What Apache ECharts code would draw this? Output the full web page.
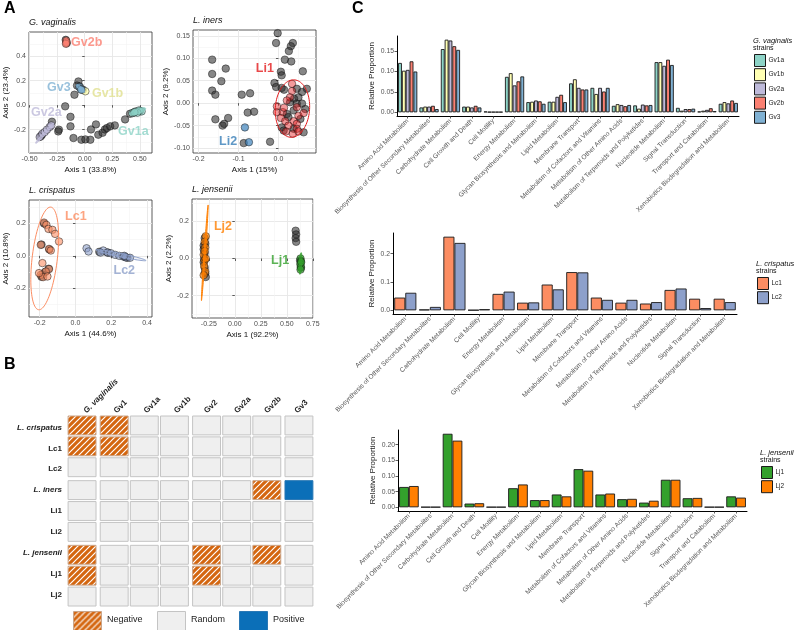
<!DOCTYPE html>
<html><head><meta charset="utf-8">
<script src="https://cdn.jsdelivr.net/npm/echarts@6/dist/echarts.min.js"></script>
<style>html,body{margin:0;padding:0;background:#fff}#c{width:800px;height:630px}</style>
</head><body><div id="c"></div>
<script>
// ================= DATA =================
// ---- Panel A: PCoA scatter points [axis1, axis2] ----
const gvGray = [[-0.057,0.193],[-0.07,0.16],[-0.093,0.085],[-0.177,-0.01],[-0.129,-0.095],[-0.297,-0.135],[-0.234,-0.2],[-0.24,-0.214],[-0.129,-0.173],[-0.102,-0.268],[-0.03,-0.282],[0.006,-0.279],[0.051,-0.282],[0.057,-0.198],[0.102,-0.157],[0.123,-0.241],[0.162,-0.225],[0.183,-0.198],[0.201,-0.187],[0.231,-0.173],[0.273,-0.165],[0.366,-0.116],[0.411,-0.07],[-0.172,0.532],[-0.163,0.505],[-0.045,0.152],[-0.015,0.125],[-0.4,-0.255],[-0.39,-0.245],[0.5,-0.048],[0.445,-0.06]];
const gvGv1a = [[0.432,-0.065],[0.462,-0.051],[0.492,-0.043],[0.516,-0.051],[0.477,-0.062],[0.45,-0.058]];
const gvGv1b = [[0.006,0.113]];
const gvGv2a = [[-0.408,-0.26],[-0.384,-0.233],[-0.363,-0.22],[-0.342,-0.2],[-0.318,-0.179],[-0.303,-0.165]];
const gvGv2b = [[-0.168,0.525],[-0.165,0.512],[-0.17,0.5]];
const gvGv3 = [[-0.048,0.147],[-0.035,0.13],[-0.03,0.125]];

const liGray = [[-0.002,0.156],[-0.006,0.134],[0.036,0.134],[0.031,0.127],[0.026,0.116],[-0.166,0.097],[-0.132,0.077],[-0.166,0.065],[-0.143,0.049],[-0.166,0.028],[-0.158,0.019],[-0.092,0.019],[-0.071,0.022],[-0.077,-0.021],[-0.061,-0.019],[-0.158,-0.036],[-0.126,-0.033],[-0.14,-0.05],[-0.136,-0.046],[-0.087,-0.089],[-0.021,-0.086],[0.016,0.097],[0.032,0.093],[0.006,0.07],[0.008,0.062],[-0.01,0.045],[0.061,0.071],[0.071,0.032],
  [-0.006,0.036],[0.008,0.034],[0.014,0.030],[0.046,0.032],[0.059,0.025],[0.050,0.013],[0.039,0.010],[0.029,0.002],[0.046,-0.001],[0.059,-0.001],[0.067,-0.013],[0.038,-0.016],[0.021,-0.024],[0.008,-0.054],[0.013,-0.061],[0.038,-0.057],[0.063,-0.065],[0.025,-0.031],[0.055,-0.035]];
const liLi1 = [[0.034,0.043],[0.034,0.027],[0.029,0.013],[0.021,0.006],[-0.004,-0.020],[0.011,-0.020],[0.014,-0.010],[0.046,-0.009],[0.050,-0.028],[0.063,-0.022],[0.006,-0.033],[0.017,-0.040],[0.038,-0.040],[0.046,-0.046],[0.025,-0.050],[0.046,-0.057],[0.019,-0.063],[0.036,-0.068],[0.050,-0.063],[-0.004,-0.007]];
const liLi2 = [[-0.084,-0.054],[-0.074,-0.087]];

const lcGray = [[-0.176,0.2],[-0.19,0.07],[-0.146,0.04],[-0.15,-0.08],[-0.19,-0.13],[-0.17,-0.1],[-0.185,-0.115],[0.133,0.025],[0.18,0.02],[0.275,-0.005],[0.29,-0.012]];
const lcLc1 = [[-0.176,0.206],[-0.163,0.192],[-0.151,0.167],[-0.129,0.161],[-0.114,0.136],[-0.092,0.089],[-0.194,0.068],[-0.148,0.043],[-0.138,0.033],[-0.185,-0.045],[-0.148,-0.082],[-0.166,-0.097],[-0.194,-0.118],[-0.181,-0.132],[-0.157,-0.128],[-0.204,-0.107]];
const lcLc2 = [[0.062,0.047],[0.073,0.027],[0.155,0.033],[0.179,0.021],[0.198,0.016],[0.222,0.006],[0.245,0.0],[0.267,-0.004],[0.282,-0.01],[0.305,-0.012],[0.273,0.0],[0.14,0.02]];

const ljGray = [[0.585,0.15],[0.59,0.13],[0.585,0.11],[0.59,0.09],[-0.29,0.11],[-0.285,0.08],[-0.3,0.05],[-0.29,0.03],[-0.295,0.0],[-0.3,-0.02],[-0.29,-0.05],[-0.285,-0.08],[-0.28,-0.1],[-0.3,0.07],[0.628,-0.01],[0.636,-0.05]];
const ljLj1 = [[0.632,0.0],[0.635,-0.015],[0.63,-0.03],[0.635,-0.045],[0.632,-0.06],[0.638,-0.02]];
const ljLj2 = [[-0.28,0.12],[-0.29,0.09],[-0.285,0.06],[-0.3,0.02],[-0.29,-0.01],[-0.295,-0.04],[-0.285,-0.07],[-0.3,-0.09],[-0.28,0.0],[-0.29,0.04]];

// ellipse params: centre, semi-axis vector a, semi-axis vector b (data units)
const gvEllipses = [{g:'Gv2b',c:[-0.168,0.515],a:[0,0.03],b:[0.018,0]},{g:'Gv3',c:[-0.039,0.136],a:[0.036,-0.03],b:[0.008,0.01]},{g:'Gv2a',c:[-0.363,-0.228],a:[0.081,0.082],b:[0.009,-0.007]},{g:'Gv1a',c:[0.48,-0.051],a:[0.072,0.024],b:[0.0075,-0.018]}];
const liEllipses = [{g:'Li1',c:[0.035,-0.012],a:[0.003,0.064],b:[0.043,0]}];
const lcEllipses = [{g:'Lc1',c:[-0.172,-0.016],a:[0.034,0.318],b:[0.07,-0.009]},{g:'Lc2',c:[0.254,0.004],a:[0.14,-0.033],b:[-0.002,-0.01]}];
const ljEllipses = [{g:'Lj2',c:[-0.289,0.031],a:[0.032,0.258],b:[0.006,-0.001]},{g:'Lj1',c:[0.632,-0.027],a:[0.006,0.058],b:[0.012,0]}];

// group label positions (data units)
const gvLabels = [['Gv2b',0.018,0.506],['Gv3',-0.234,0.142],['Gv1b',0.207,0.093],['Gv2a',-0.348,-0.062],['Gv1a',0.441,-0.214]];
const liLabels = [['Li1',-0.034,0.077],['Li2',-0.126,-0.085]];
const lcLabels = [['Lc1',0.002,0.243],['Lc2',0.273,-0.091]];
const ljLabels = [['Lj2',-0.114,0.171],['Lj1',0.435,-0.009]];

// axis ticks
const gvXTicks=[-0.5,-0.25,0,0.25,0.5], gvYTicks=[-0.2,0,0.2,0.4];
const liXTicks=[-0.2,-0.1,0], liYTicks=[-0.1,-0.05,0,0.05,0.1,0.15];
const lcXTicks=[-0.2,0,0.2,0.4], lcYTicks=[-0.2,0,0.2];
const ljXTicks=[-0.25,0,0.25,0.5,0.75], ljYTicks=[-0.2,0,0.2];

// ---- Panel B: co-occurrence ----
const heatCols = ['G. vaginalis','Gv1','Gv1a','Gv1b','Gv2','Gv2a','Gv2b','Gv3'];
const heatRows = ['L. crispatus','Lc1','Lc2','L. iners','Li1','Li2','L. jensenii','Lj1','Lj2'];
// -1 Negative, 0 Random, 1 Positive
const heatValues = [
  [-1,-1,0,0,0,0,0,0],
  [-1,-1,0,0,0,0,0,0],
  [0,0,0,0,0,0,0,0],
  [0,0,0,0,0,0,-1,1],
  [0,0,0,0,0,0,0,0],
  [0,0,0,0,0,0,0,0],
  [-1,0,0,0,-1,0,-1,0],
  [-1,0,0,0,-1,0,0,0],
  [0,0,0,0,0,0,0,0]
];

// ---- Panel C: KEGG pathway proportions ----
const pathways16 = ['Amino Acid Metabolism','Biosynthesis of Other Secondary Metabolites','Carbohydrate Metabolism','Cell Growth and Death','Cell Motility','Energy Metabolism','Glycan Biosynthesis and Metabolism','Lipid Metabolism','Membrane Transport','Metabolism of Cofactors and Vitamins','Metabolism of Other Amino Acids','Metabolism of Terpenoids and Polyketides','Nucleotide Metabolism','Signal Transduction','Transport and Catabolism','Xenobiotics Biodegradation and Metabolism'];
const pathways14 = ['Amino Acid Metabolism','Biosynthesis of Other Secondary Metabolites','Carbohydrate Metabolism','Cell Motility','Energy Metabolism','Glycan Biosynthesis and Metabolism','Lipid Metabolism','Membrane Transport','Metabolism of Cofactors and Vitamins','Metabolism of Other Amino Acids','Metabolism of Terpenoids and Polyketides','Nucleotide Metabolism','Signal Transduction','Xenobiotics Biodegradation and Metabolism'];

const barGv1a = [0.121,0.012,0.155,0.014,0.002,0.087,0.025,0.026,0.071,0.060,0.016,0.017,0.123,0.011,0.002,0.021];
const barGv1b = [0.102,0.014,0.178,0.014,0.001,0.096,0.026,0.026,0.081,0.045,0.020,0.009,0.123,0.004,0.004,0.025];
const barGv2a = [0.104,0.014,0.176,0.012,0.001,0.066,0.029,0.038,0.060,0.060,0.018,0.019,0.114,0.008,0.006,0.022];
const barGv2b = [0.125,0.016,0.162,0.016,0.001,0.076,0.027,0.043,0.056,0.051,0.015,0.017,0.129,0.008,0.010,0.029];
const barGv3  = [0.100,0.008,0.153,0.012,0.001,0.088,0.021,0.025,0.056,0.060,0.018,0.018,0.116,0.009,0.003,0.023];

const barLc1 = [0.045,0.003,0.260,0.001,0.058,0.027,0.091,0.135,0.045,0.027,0.024,0.072,0.041,0.041];
const barLc2 = [0.062,0.012,0.238,0.004,0.066,0.028,0.074,0.134,0.037,0.037,0.029,0.077,0.008,0.029];

const barLj1 = [0.065,0.001,0.235,0.012,0.001,0.061,0.023,0.041,0.122,0.041,0.026,0.015,0.088,0.029,0.001,0.035];
const barLj2 = [0.068,0.001,0.213,0.013,0.001,0.073,0.023,0.035,0.117,0.044,0.027,0.021,0.088,0.030,0.001,0.031];

const gvTicksBar=[0,0.05,0.1,0.15], lcTicksBar=[0,0.1,0.2], ljTicksBar=[0,0.05,0.1,0.15,0.2];

// ================= STYLE / BUILD =================
const FONT = '"Liberation Sans", Arial, sans-serif';
const COL = {Gv1a:'#8DD3C7',Gv1b:'#FFFFB3',Gv2a:'#BEBADA',Gv2b:'#FB8072',Gv3:'#80B1D3',
  Li1:'#E41A1C',Li2:'#377EB8',Lc1:'#FC8D62',Lc2:'#8DA0CB',Lj1:'#33A02C',Lj2:'#FF7F00'};
const TXTCOL = {Gv1a:'#8DD3C7',Gv1b:'#E0E08E',Gv2a:'#BEBADA',Gv2b:'#FB8072',Gv3:'#80B1D3',
  Li1:'#E41A1C',Li2:'#377EB8',Lc1:'#FC8D62',Lc2:'#8DA0CB',Lj1:'#33A02C',Lj2:'#FF7F00'};
const ELL = {Gv2b:{fill:0.5},Gv3:{fill:0.6},Gv2a:{fill:0.7},Gv1a:{fill:0.7},
  Li1:{fill:0},Lc1:{fill:0},Lc2:{fill:0.15},Lj2:{fill:0.6},Lj1:{fill:0.6}};

function rgba(hex,a){const n=parseInt(hex.slice(1),16);return `rgba(${n>>16},${(n>>8)&255},${n&255},${a})`;}
function fmt(v,d){const s=Math.abs(v).toFixed(d);return (v<-1e-9?'-':'')+s;}
function mids(t,lo,hi){const m=[];const st=t[1]-t[0];for(let v=t[0]-st/2;v<=hi;v+=st){if(v>=lo)m.push(+v.toFixed(6));}return m;}

const grids=[], xAxes=[], yAxes=[], series=[], legends=[], graphics=[];

function addScatter(p){
  const gi=grids.length;
  grids.push({left:p.rect[0],top:p.rect[1],width:p.rect[2],height:p.rect[3],show:true,borderColor:'#333',borderWidth:0.8,backgroundColor:'#fff'});
  const xi=xAxes.length, yi=yAxes.length;
  xAxes.push({gridIndex:gi,type:'value',min:p.xr[0],max:p.xr[1],
    axisLine:{show:false},
    axisTick:{show:true,length:2.5,customValues:p.xt,lineStyle:{color:'#333',width:0.8}},
    axisLabel:{customValues:p.xt,fontSize:7,color:'#4d4d4d',margin:3,fontFamily:FONT,formatter:v=>fmt(v,p.xd)},
    splitLine:{show:true,lineStyle:{color:'#e6e6e6',width:0.9}},
    name:p.xn,nameLocation:'middle',nameGap:13,nameTextStyle:{fontSize:8,color:'#111',fontFamily:FONT,verticalAlign:'top'}});
  yAxes.push({gridIndex:gi,type:'value',min:p.yr[0],max:p.yr[1],
    axisLine:{show:false},
    axisTick:{show:true,length:2.5,customValues:p.yt,lineStyle:{color:'#333',width:0.8}},
    axisLabel:{customValues:p.yt,fontSize:7,color:'#4d4d4d',margin:3,fontFamily:FONT,formatter:v=>fmt(v,p.yd)},
    splitLine:{show:true,lineStyle:{color:'#e6e6e6',width:0.9}},
    name:p.yn,nameLocation:'middle',nameGap:p.yg,nameTextStyle:{fontSize:8,color:'#111',fontFamily:FONT}});
  // minor grid lines (hidden axes)
  xAxes.push({gridIndex:gi,type:'value',min:p.xr[0],max:p.xr[1],position:'top',axisLine:{show:false},axisLabel:{show:false},
    axisTick:{show:false,customValues:mids(p.xt,p.xr[0],p.xr[1])},splitLine:{show:true,lineStyle:{color:'#f3f3f3',width:0.6}}});
  yAxes.push({gridIndex:gi,type:'value',min:p.yr[0],max:p.yr[1],position:'right',axisLine:{show:false},axisLabel:{show:false},
    axisTick:{show:false,customValues:mids(p.yt,p.yr[0],p.yr[1])},splitLine:{show:true,lineStyle:{color:'#f3f3f3',width:0.6}}});
  // ellipses
  series.push({type:'custom',xAxisIndex:xi,yAxisIndex:yi,silent:true,z:3,
    data:p.ell.map(e=>[e.c[0],e.c[1],e.a[0],e.a[1],e.b[0],e.b[1]]),
    encode:{x:0,y:1},
    renderItem:(params,api)=>{
      const e=p.ell[params.dataIndex];const st=ELL[e.g];const pts=[];
      for(let k=0;k<=90;k++){const t=k/90*2*Math.PI,ct=Math.cos(t),s=Math.sin(t);
        pts.push(api.coord([e.c[0]+e.a[0]*ct+e.b[0]*s,e.c[1]+e.a[1]*ct+e.b[1]*s]));}
      return {type:'polygon',shape:{points:pts},style:{fill:st.fill?rgba(COL[e.g],st.fill):'none',stroke:COL[e.g],lineWidth:1}};
    }});
  // points
  const mk=(data,fill)=>series.push({type:'scatter',xAxisIndex:xi,yAxisIndex:yi,data,symbolSize:7.5,z:2,silent:true,
    itemStyle:{color:fill,borderColor:'#111',borderWidth:0.6}});
  mk(p.gray,'rgba(45,45,45,0.72)');
  p.groups.forEach(g=>mk(g.data,rgba(COL[g.name],g.alpha||0.85)));
  // labels
  series.push({type:'scatter',xAxisIndex:xi,yAxisIndex:yi,symbolSize:0,silent:true,z:5,
    data:p.labels.map(l=>({value:[l[1],l[2]],name:l[0],label:{color:TXTCOL[l[0]]}})),
    label:{show:true,position:'inside',formatter:'{b}',fontSize:12.5,fontWeight:'bold',fontFamily:FONT}});
  graphics.push({type:'text',left:p.rect[0],top:p.rect[1]-14,style:{text:p.title,font:'italic 9px '+FONT,fill:'#111'}});
}

addScatter({rect:[29,32,123,121],xr:[-0.505,0.61],yr:[-0.39,0.596],xt:gvXTicks,yt:gvYTicks,xd:2,yd:1,
  xn:'Axis 1 (33.8%)',yn:'Axis 2 (23.4%)',yg:17,title:'G. vaginalis',gray:gvGray,ell:gvEllipses,labels:gvLabels,
  groups:[{name:'Gv1a',data:gvGv1a},{name:'Gv1b',data:gvGv1b,alpha:1},{name:'Gv2a',data:gvGv2a},{name:'Gv2b',data:gvGv2b,alpha:1},{name:'Gv3',data:gvGv3}]});
addScatter({rect:[193,30,123,123],xr:[-0.214,0.094],yr:[-0.111,0.163],xt:liXTicks,yt:liYTicks,xd:1,yd:2,
  xn:'Axis 1 (15%)',yn:'Axis 2 (9.2%)',yg:21,title:'L. iners',gray:liGray,ell:liEllipses,labels:liLabels,
  groups:[{name:'Li1',data:liLi1,alpha:0.55},{name:'Li2',data:liLi2}]});
addScatter({rect:[29,200,123,117],xr:[-0.26,0.428],yr:[-0.379,0.346],xt:lcXTicks,yt:lcYTicks,xd:1,yd:1,
  xn:'Axis 1 (44.6%)',yn:'Axis 2 (10.8%)',yg:17,title:'L. crispatus',gray:lcGray,ell:lcEllipses,labels:lcLabels,
  groups:[{name:'Lc1',data:lcLc1,alpha:0.75},{name:'Lc2',data:lcLc2,alpha:0.75}]});
addScatter({rect:[192,199,121,119],xr:[-0.412,0.752],yr:[-0.321,0.321],xt:ljXTicks,yt:ljYTicks,xd:2,yd:1,
  xn:'Axis 1 (92.2%)',yn:'Axis 2 (2.2%)',yg:17,title:'L. jensenii',gray:ljGray,ell:ljEllipses,labels:ljLabels,
  groups:[{name:'Lj1',data:ljLj1},{name:'Lj2',data:ljLj2}]});

// ---- heatmap ----
const NEG='#d4660f', POS='#0b6fb8', RND='#efefef';
function stripeCanvas(){const c=document.createElement('canvas');c.width=6;c.height=6;const g=c.getContext('2d');
  g.fillStyle=NEG;g.fillRect(0,0,6,6);g.strokeStyle='#fff';g.lineWidth=1.2;g.beginPath();
  g.moveTo(0,6);g.lineTo(6,0);g.moveTo(-1,1);g.lineTo(1,-1);g.moveTo(5,7);g.lineTo(7,5);g.stroke();return c;}
const stripePattern={image:stripeCanvas(),repeat:'repeat'};
const colGroup=[0,1,1,1,2,2,2,3], rowGroup=[0,0,0,1,1,1,2,2,2];
(function(){
  const gi=grids.length, xi=xAxes.length, yi=yAxes.length;
  grids.push({left:70,top:417,width:241,height:188});
  const ital=s=>/^(G\.|L\.)/.test(s);
  xAxes.push({gridIndex:gi,type:'category',position:'top',data:heatCols,axisLine:{show:false},axisTick:{show:false},splitLine:{show:false},
    axisLabel:{interval:0,rotate:-45,margin:5,fontSize:8,fontWeight:'bold',color:'#222',fontFamily:FONT,
      formatter:v=>ital(v)?'{i|'+v+'}':v,rich:{i:{fontStyle:'italic',fontWeight:'bold',fontSize:8,fontFamily:FONT,color:'#222'}}}});
  yAxes.push({gridIndex:gi,type:'category',inverse:true,data:heatRows,axisLine:{show:false},axisTick:{show:false},splitLine:{show:false},
    axisLabel:{interval:0,margin:8,fontSize:8,fontWeight:'bold',color:'#222',fontFamily:FONT,
      formatter:v=>ital(v)?'{i|'+v+'}':v,rich:{i:{fontStyle:'italic',fontWeight:'bold',fontSize:8,fontFamily:FONT,color:'#222'}}}});
  const data=[];heatValues.forEach((row,ri)=>row.forEach((v,ci)=>data.push([ci,ri,v])));
  series.push({type:'custom',xAxisIndex:xi,yAxisIndex:yi,silent:true,data,encode:{x:0,y:1},
    renderItem:(params,api)=>{
      const ci=api.value(0),ri=api.value(1),v=api.value(2);
      const c=api.coord([ci,ri]),s=api.size([1,1]);
      const dx=(colGroup[ci]-1.5)*2,dy=(rowGroup[ri]-1)*2;
      const w=s[0]-2.2,h=s[1]-2;
      const fill=v<0?stripePattern:(v>0?POS:RND);
      const stroke=v<0?'#c9a58a':(v>0?'#2a78b5':'#c4c4c4');
      return {type:'rect',shape:{x:c[0]+dx-w/2,y:c[1]+dy-h/2,width:w,height:h},style:{fill,stroke,lineWidth:1}};
    }});
})();
[['Negative',73,stripePattern,'#c9a58a'],['Random',157,RND,'#c4c4c4'],['Positive',239,POS,'#2a78b5']].forEach(l=>{
  graphics.push({type:'rect',left:l[1],top:611,shape:{width:28,height:19},style:{fill:l[2],stroke:l[3],lineWidth:1}});
  graphics.push({type:'text',left:l[1]+34,top:615,style:{text:l[0],font:'9px '+FONT,fill:'#222'}});
});

// ---- bar charts ----
function addBars(p){
  const gi=grids.length, xi=xAxes.length, yi=yAxes.length;
  grids.push({left:p.left,top:p.top,width:p.width,height:p.height});
  xAxes.push({gridIndex:gi,type:'category',data:p.cats,
    axisLine:{onZero:false,lineStyle:{color:'#000',width:1}},
    axisTick:{show:true,alignWithLabel:true,length:2.5,lineStyle:{color:'#333',width:0.8}},
    axisLabel:{interval:0,rotate:45,fontSize:6.6,color:'#555',margin:4,fontFamily:FONT,hideOverlap:false},
    splitLine:{show:false}});
  yAxes.push({gridIndex:gi,type:'value',min:p.yr[0],max:p.yr[1],
    axisLine:{show:true,lineStyle:{color:'#000',width:1}},
    axisTick:{show:true,length:2.5,customValues:p.yt,lineStyle:{color:'#333',width:0.8}},
    axisLabel:{customValues:p.yt,fontSize:6.8,color:'#555',margin:3,fontFamily:FONT,formatter:v=>fmt(v,p.yd)},
    splitLine:{show:false},
    name:'Relative Proportion',nameLocation:'middle',nameGap:p.ng,nameTextStyle:{fontSize:8,color:'#222',fontFamily:FONT}});
  p.series.forEach(s=>series.push({type:'bar',name:s.name,xAxisIndex:xi,yAxisIndex:yi,data:s.data,
    barGap:'0%',barCategoryGap:'10%',silent:true,
    itemStyle:{color:COL[s.name],borderColor:'#1a1a1a',borderWidth:0.9}}));
  legends.push({orient:'vertical',left:p.lg[0],top:p.lg[1],itemWidth:11,itemHeight:12,itemGap:1.2,icon:'rect',padding:0,
    data:p.series.map(s=>s.name),selectedMode:false,
    itemStyle:{borderColor:'#1a1a1a',borderWidth:1},
    textStyle:{fontSize:6.5,color:'#222',fontFamily:FONT,padding:[0,0,0,-2]}});
  graphics.push({type:'text',left:p.lg[0]-1,top:p.lg[1]-17,style:{text:p.title,font:'italic 7.5px '+FONT,fill:'#111'}});
  graphics.push({type:'text',left:p.lg[0]-1,top:p.lg[1]-9,style:{text:'strains',font:'7px '+FONT,fill:'#111'}});
}
addBars({left:397,top:36,width:342,height:80,cats:pathways16,yr:[-0.009,0.187],yt:gvTicksBar,yd:2,ng:21,
  lg:[754,54],title:'G. vaginalis',
  series:[{name:'Gv1a',data:barGv1a},{name:'Gv1b',data:barGv1b},{name:'Gv2a',data:barGv2a},{name:'Gv2b',data:barGv2b},{name:'Gv3',data:barGv3}]});
addBars({left:393,top:233,width:344,height:81,cats:pathways14,yr:[-0.013,0.273],yt:lcTicksBar,yd:1,ng:17,
  lg:[757,277],title:'L. crispatus',
  series:[{name:'Lc1',data:barLc1},{name:'Lc2',data:barLc2}]});
addBars({left:398,top:430,width:349,height:81,cats:pathways16,yr:[-0.0118,0.247],yt:ljTicksBar,yd:2,ng:21,
  lg:[761,466],title:'L. jensenii',
  series:[{name:'Lj1',data:barLj1},{name:'Lj2',data:barLj2}]});

// panel letters
graphics.push({type:'text',left:4,top:1,style:{text:'A',font:'bold 16px '+FONT,fill:'#000'}});
graphics.push({type:'text',left:4,top:357,style:{text:'B',font:'bold 16px '+FONT,fill:'#000'}});
graphics.push({type:'text',left:352,top:1,style:{text:'C',font:'bold 16px '+FONT,fill:'#000'}});

const chart=echarts.init(document.getElementById('c'),null,{renderer:'canvas'});
chart.setOption({animation:false,backgroundColor:'#fff',textStyle:{fontFamily:FONT},
  grid:grids,xAxis:xAxes,yAxis:yAxes,series,legend:legends,graphic:graphics});
</script></body></html>
